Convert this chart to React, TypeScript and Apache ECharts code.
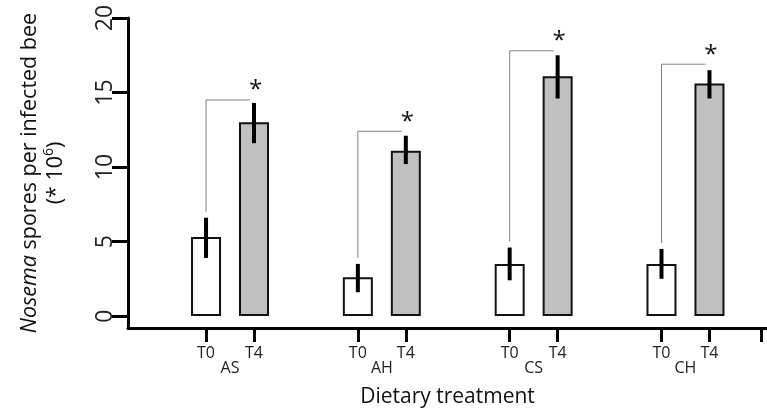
import React, { useEffect, useRef } from 'react';
import * as echarts from 'echarts';

const groups = ['AS', 'AH', 'CS', 'CH'];
const treatments = ['T0', 'T4'];
const t0Mean = [5.3, 2.6, 3.5, 3.5];
const t0Low = [3.9, 1.6, 2.4, 2.5];
const t0High = [6.6, 3.5, 4.6, 4.5];
const t4Mean = [13.0, 11.1, 16.1, 15.6];
const t4Low = [11.6, 10.2, 14.6, 14.6];
const t4High = [14.3, 12.1, 17.5, 16.5];
const bracketTop = [14.5, 12.4, 17.8, 16.9];
const yTicks = [0, 5, 10, 15, 20];
const sigMark = '*';

const PAIR_OFFSET = 0.158;
const AXIS_END = 3.5;
const FONT = "'Open Sans', sans-serif";

export default function App() {
  const ref = useRef<HTMLDivElement>(null);
  useEffect(() => {
    const chart = echarts.init(ref.current!, null, { renderer: 'svg' });
    const xOf = (g: number, t: number) => g + (t === 0 ? -PAIR_OFFSET : PAIR_OFFSET);
    const positions: number[] = [];
    const barData: any[] = [];
    const errData: number[][] = [];
    const bracketData: number[][] = [];
    groups.forEach((_, i) => {
      positions.push(xOf(i, 0), xOf(i, 1));
      barData.push({ value: [xOf(i, 0), t0Mean[i]], itemStyle: { color: '#ffffff' } });
      barData.push({ value: [xOf(i, 1), t4Mean[i]], itemStyle: { color: '#c0c0c0' } });
      errData.push([xOf(i, 0), t0Low[i], t0High[i]]);
      errData.push([xOf(i, 1), t4Low[i], t4High[i]]);
      bracketData.push([xOf(i, 0), xOf(i, 1), t0High[i], bracketTop[i]]);
    });

    const option: any = {
      animation: false,
      grid: { left: 128, top: 18, width: 639, height: 310, outerBoundsMode: 'none' },
      xAxis: [
        {
          type: 'value',
          min: -0.672,
          max: 3.537,
          position: 'bottom',
          splitLine: { show: false },
          axisLine: { show: true, onZero: false, lineStyle: { color: '#000', width: 3 } },
          axisTick: {
            show: true,
            customValues: [...positions, AXIS_END],
            length: 14,
            lineStyle: { color: '#000', width: 3 },
          },
          axisLabel: {
            customValues: positions,
            margin: 16,
            fontSize: 16,
            color: '#222',
            fontFamily: FONT,
            formatter: (v: number) => {
              const k = positions.findIndex((p) => Math.abs(p - v) < 1e-6);
              return k < 0 ? '' : treatments[k % 2];
            },
          },
          name: 'Dietary treatment',
          nameLocation: 'middle',
          nameGap: 56,
          nameTextStyle: { fontSize: 21, color: '#111', fontFamily: FONT },
        },
        {
          type: 'value',
          min: -0.672,
          max: 3.537,
          position: 'bottom',
          splitLine: { show: false },
          axisLine: { show: false },
          axisTick: { show: false },
          axisLabel: {
            customValues: groups.map((_, i) => i),
            margin: 31,
            fontSize: 16,
            color: '#222',
            fontFamily: FONT,
            formatter: (v: number) => groups[Math.round(v)] ?? '',
          },
        },
      ],
      yAxis: {
        type: 'value',
        min: -0.8,
        max: 20,
        splitLine: { show: false },
        axisLine: { show: true, onZero: false, lineStyle: { color: '#000', width: 3 } },
        axisTick: { show: true, customValues: yTicks, length: 16, lineStyle: { color: '#000', width: 3 } },
        axisLabel: {
          customValues: yTicks,
          rotate: 90,
          margin: 14,
          fontSize: 23,
          color: '#222',
          fontFamily: FONT,
        },
        name: '{it|Nosema} spores per infected bee\n(* 10{sup|6})',
        nameLocation: 'middle',
        nameRotate: 90,
        nameGap: 62,
        nameTextStyle: {
          fontSize: 21.5,
          lineHeight: 26,
          color: '#111',
          fontFamily: FONT,
          rich: {
            it: { fontStyle: 'italic', fontSize: 21.5, lineHeight: 26, fontFamily: FONT, color: '#111' },
            sup: { fontSize: 14, lineHeight: 26, verticalAlign: 'top', fontFamily: FONT, color: '#111' },
          },
        },
      },
      series: [
        {
          type: 'bar',
          xAxisIndex: 0,
          data: barData,
          barWidth: 30,
          itemStyle: { borderColor: '#111', borderWidth: 2 },
          z: 2,
        },
        {
          type: 'custom',
          xAxisIndex: 0,
          data: errData,
          z: 4,
          renderItem: (params: any, api: any) => {
            const p1 = api.coord([api.value(0), api.value(1)]);
            const p2 = api.coord([api.value(0), api.value(2)]);
            return {
              type: 'line',
              shape: { x1: p1[0], y1: p1[1], x2: p2[0], y2: p2[1] },
              style: { stroke: '#000', lineWidth: 4 },
            };
          },
        },
        {
          type: 'custom',
          xAxisIndex: 0,
          data: bracketData,
          z: 3,
          renderItem: (params: any, api: any) => {
            const a = api.coord([api.value(0), api.value(2)]);
            const top = api.coord([api.value(0), api.value(3)]);
            const b = api.coord([api.value(1), api.value(3)]);
            return {
              type: 'group',
              children: [
                {
                  type: 'polyline',
                  shape: {
                    points: [
                      [a[0], a[1] - 6],
                      [top[0], top[1]],
                      [b[0] - 4, b[1]],
                    ],
                  },
                  style: { stroke: '#808080', lineWidth: 1, fill: null },
                },
                {
                  type: 'text',
                  x: b[0] + 1.5,
                  y: b[1] - 12,
                  style: {
                    text: sigMark,
                    fontSize: 24,
                    fontFamily: FONT,
                    fill: '#111',
                    align: 'center',
                    verticalAlign: 'middle',
                  },
                },
              ],
            };
          },
        },
      ],
    };
    chart.setOption(option);
    return () => chart.dispose();
  }, []);
  return <div ref={ref} style={{ position: 'fixed', left: 0, top: 0, width: 767, height: 412 }} />;
}
